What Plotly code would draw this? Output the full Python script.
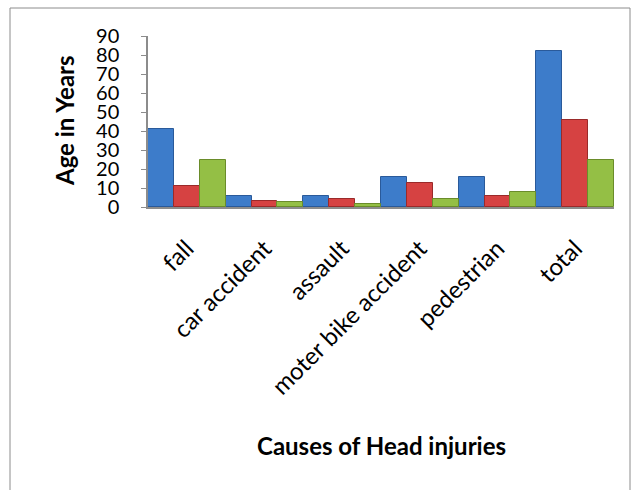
import plotly.graph_objects as go

categories = ["fall", "car accident", "assault", "moter bike accident", "pedestrian", "total"]
series_a = [41, 6, 6, 16, 16, 82]
series_b = [11, 3, 4, 12.5, 6, 46]
series_c = [25, 2.5, 1.8, 4, 8, 25]
y_ticks = [0, 10, 20, 30, 40, 50, 60, 70, 80, 90]

colors = ["#3d7cca", "#d64242", "#94bf45"]
lines = ["#2a5a9a", "#9a2a2a", "#6a8c2a"]

fig = go.Figure()
for name, vals, c, lc in zip(["Series 1", "Series 2", "Series 3"],
                             [series_a, series_b, series_c], colors, lines):
    fig.add_trace(go.Bar(x=categories, y=vals, name=name,
                         marker=dict(color=c, line=dict(color=lc, width=1))))

W, H = 640, 490
L, R, T, B = 148, 26, 36, 283
pw, ph = W - L - R, H - T - B

def px(x):
    return (x - L) / pw

def py(y):
    return (H - B - y) / ph

FONT = "Lato, Open Sans, sans-serif"

fig.update_layout(
    width=W, height=H,
    margin=dict(l=L, r=R, t=T, b=B),
    paper_bgcolor="white", plot_bgcolor="white",
    showlegend=False,
    barmode="group", bargap=0.0, bargroupgap=0.0,
    font=dict(family=FONT, color="black"),
    xaxis=dict(showline=True, linecolor="#8c8c8c", linewidth=2,
               tickangle=-45, tickfont=dict(size=24, family=FONT),
               ticks="", ticklabelstandoff=16, showgrid=False, zeroline=False),
    yaxis=dict(range=[0, 90], tickvals=y_ticks, showline=True, linecolor="#8c8c8c",
               linewidth=1.5, ticks="outside", ticklen=5, tickcolor="#8c8c8c",
               ticklabelstandoff=18,
               tickfont=dict(size=20, family=FONT),
               showgrid=False, zeroline=False),
    annotations=[
        dict(text="<b>Age in Years</b>", xref="paper", yref="paper",
             x=px(64), y=py(121), xanchor="center", yanchor="middle",
             showarrow=False, textangle=-90,
             font=dict(size=24, family=FONT)),
        dict(text="<b>Causes of Head injuries</b>", xref="paper", yref="paper",
             x=px(381), y=py(445), xanchor="center", yanchor="middle",
             showarrow=False,
             font=dict(size=24, family=FONT)),
    ],
    shapes=[dict(type="rect", xref="paper", yref="paper",
                 x0=px(10), x1=px(630), y0=py(495), y1=py(8),
                 line=dict(color="#8c8c8c", width=1), layer="below")],
)

fig.write_html("out.html")
